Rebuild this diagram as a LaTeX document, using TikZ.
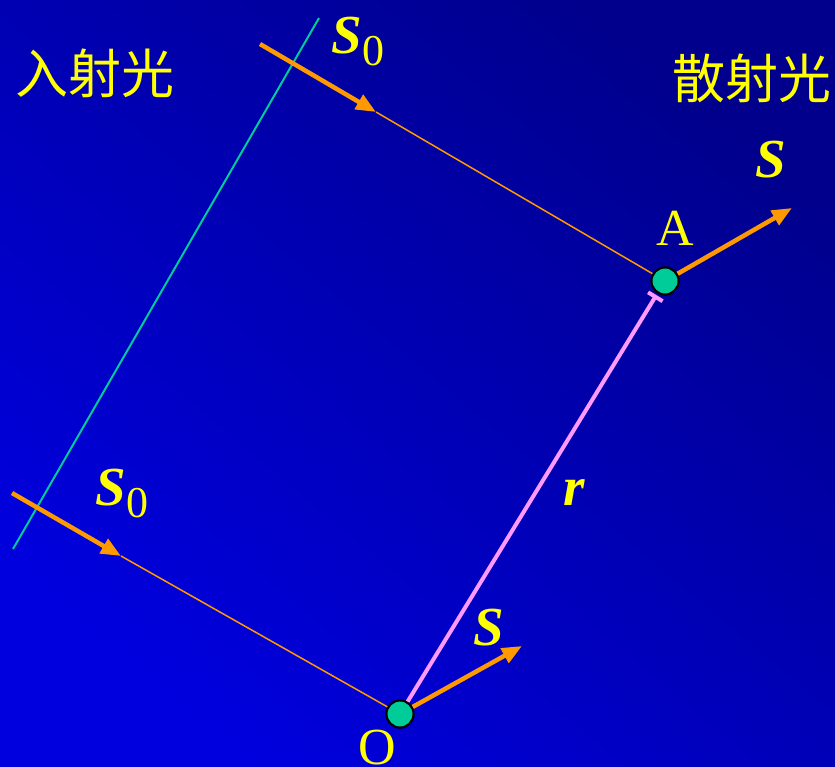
\documentclass[tikz,border=0pt]{standalone}
\usepackage{fontspec}
\setmainfont{Liberation Serif}
\newfontfamily\cjk{Noto Sans CJK SC}
\usetikzlibrary{arrows.meta}
\definecolor{bgdark}{RGB}{0,0,140}
\definecolor{bglight}{RGB}{0,0,222}
\definecolor{orng}{RGB}{255,153,0}
\definecolor{tealc}{RGB}{0,204,153}
\definecolor{pinkc}{RGB}{255,153,255}
\definecolor{ylw}{RGB}{255,255,0}
\tikzset{
  x=1pt,y=-1pt,
  dot/.style={circle,draw=black,line width=2pt,fill=tealc,minimum size=27pt,inner sep=0pt},
  thickarrow/.style={draw=orng,line width=4.5pt,-{Triangle[length=20pt,width=16pt]}},
  thinline/.style={draw=orng,line width=1.5pt},
  lbl/.style={text=ylw,inner sep=0pt,anchor=base west},
  vec/.style={lbl,font=\fontsize{55}{60}\selectfont\bfseries\itshape},
  plain/.style={lbl,font=\fontsize{52}{58}\selectfont},
  cjklbl/.style={lbl,font=\fontsize{53}{58}\selectfont\cjk},
}
\begin{document}
\begin{tikzpicture}
\useasboundingbox (0,0) rectangle (835,766);
\shade[top color=bgdark,bottom color=bglight,shading angle=-40] (0,0) rectangle (835,766);
% wavefront
\coordinate (w1) at (319,18);
\coordinate (w2) at (13,549);
\draw[tealc,line width=2pt] (w1) -- (w2);
% points
\node[dot] (A) at (665,281) {};
\node[dot] (O) at (400,714) {};
% incident rays
\coordinate (i1s) at (260,44);
\coordinate (i1t) at (376,112);
\coordinate (i2s) at (12,493);
\coordinate (i2t) at (121,556);
\draw[thinline] (i1t) -- (A);
\draw[thinline] (i2t) -- (O);
\draw[thickarrow] (i1s) -- (i1t);
\draw[thickarrow] (i2s) -- (i2t);
% scattered rays
\coordinate (sA) at (792,208);
\coordinate (sO) at (522,646);
\draw[thickarrow] (A) -- (sA);
\draw[thickarrow] (O) -- (sO);
% r
\draw[pinkc,line width=4pt,-{Bar[width=17pt,line width=4pt]},shorten >=2pt] (O) -- (A);
\node[dot] at (A) {};
\node[dot] at (O) {};
% labels
\node[vec] (s0a) at (331,53) {S\kern1pt\raisebox{-12pt}{\fontsize{44}{48}\selectfont\upshape\mdseries 0}};
\node[vec] (s0b) at (95,505) {S\kern1pt\raisebox{-12pt}{\fontsize{44}{48}\selectfont\upshape\mdseries 0}};
\node[vec] (sa) at (755,177) {S};
\node[vec] (so) at (473,645) {S};
\node[vec] (r) at (563,505) {r};
\node[plain] (la) at (656,245) {A};
\node[plain] (lo) at (358,764) {O};
\node[cjklbl] (inc) at (15,93) {入射光};
\node[cjklbl] (sca) at (672,98) {散射光};
\end{tikzpicture}
\end{document}
